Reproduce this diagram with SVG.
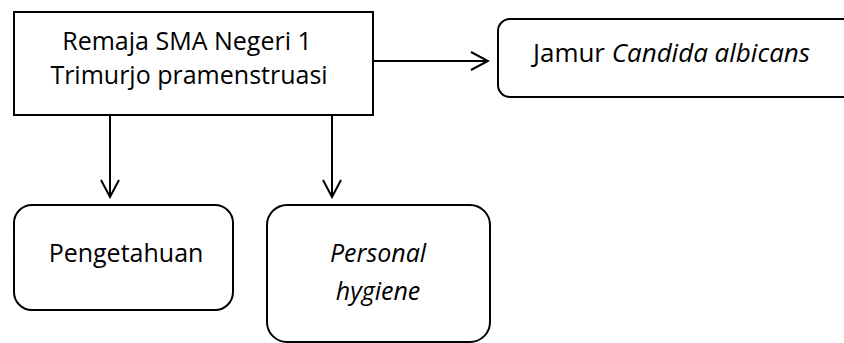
<svg xmlns="http://www.w3.org/2000/svg" width="844" height="343" viewBox="0 0 844 343">
<style>
.box{fill:#fff;stroke:#000;stroke-width:2}
.t{font-family:"Open Sans","Liberation Sans",sans-serif;font-size:25px;fill:#000}
.i{font-style:italic}
.c{fill:none;stroke:#000;stroke-width:2}
</style>
<defs>
<marker id="arr" viewBox="0 0 20 20" refX="18" refY="10" markerWidth="20" markerHeight="20" markerUnits="userSpaceOnUse" orient="auto">
<path d="M1,1 L18,10 L1,19" fill="none" stroke="#000" stroke-width="2"/>
</marker>
</defs>
<g id="connectors">
<line class="c" x1="373" y1="61" x2="488" y2="61" marker-end="url(#arr)"/>
<line class="c" x1="110" y1="115" x2="110" y2="197" marker-end="url(#arr)"/>
<line class="c" x1="332" y1="115" x2="332" y2="197" marker-end="url(#arr)"/>
</g>
<g id="remaja">
<rect class="box" x="14" y="12" width="359" height="103"/>
<text class="t" x="187" y="50" text-anchor="middle">Remaja SMA Negeri 1</text>
<text class="t" x="189" y="84" text-anchor="middle">Trimurjo pramenstruasi</text>
</g>
<g id="jamur">
<rect class="box" x="498" y="19" width="360" height="78" rx="12"/>
<text class="t" x="533" y="62" textLength="277" lengthAdjust="spacingAndGlyphs">Jamur <tspan class="i">Candida albicans</tspan></text>
</g>
<g id="pengetahuan">
<rect class="box" x="14" y="205" width="219" height="105" rx="18"/>
<text class="t" x="126" y="262" text-anchor="middle">Pengetahuan</text>
</g>
<g id="personal">
<rect class="box" x="267" y="205" width="223" height="137" rx="20"/>
<text class="t i" x="378" y="262" text-anchor="middle">Personal</text>
<text class="t i" x="378" y="300" text-anchor="middle">hygiene</text>
</g>
</svg>
